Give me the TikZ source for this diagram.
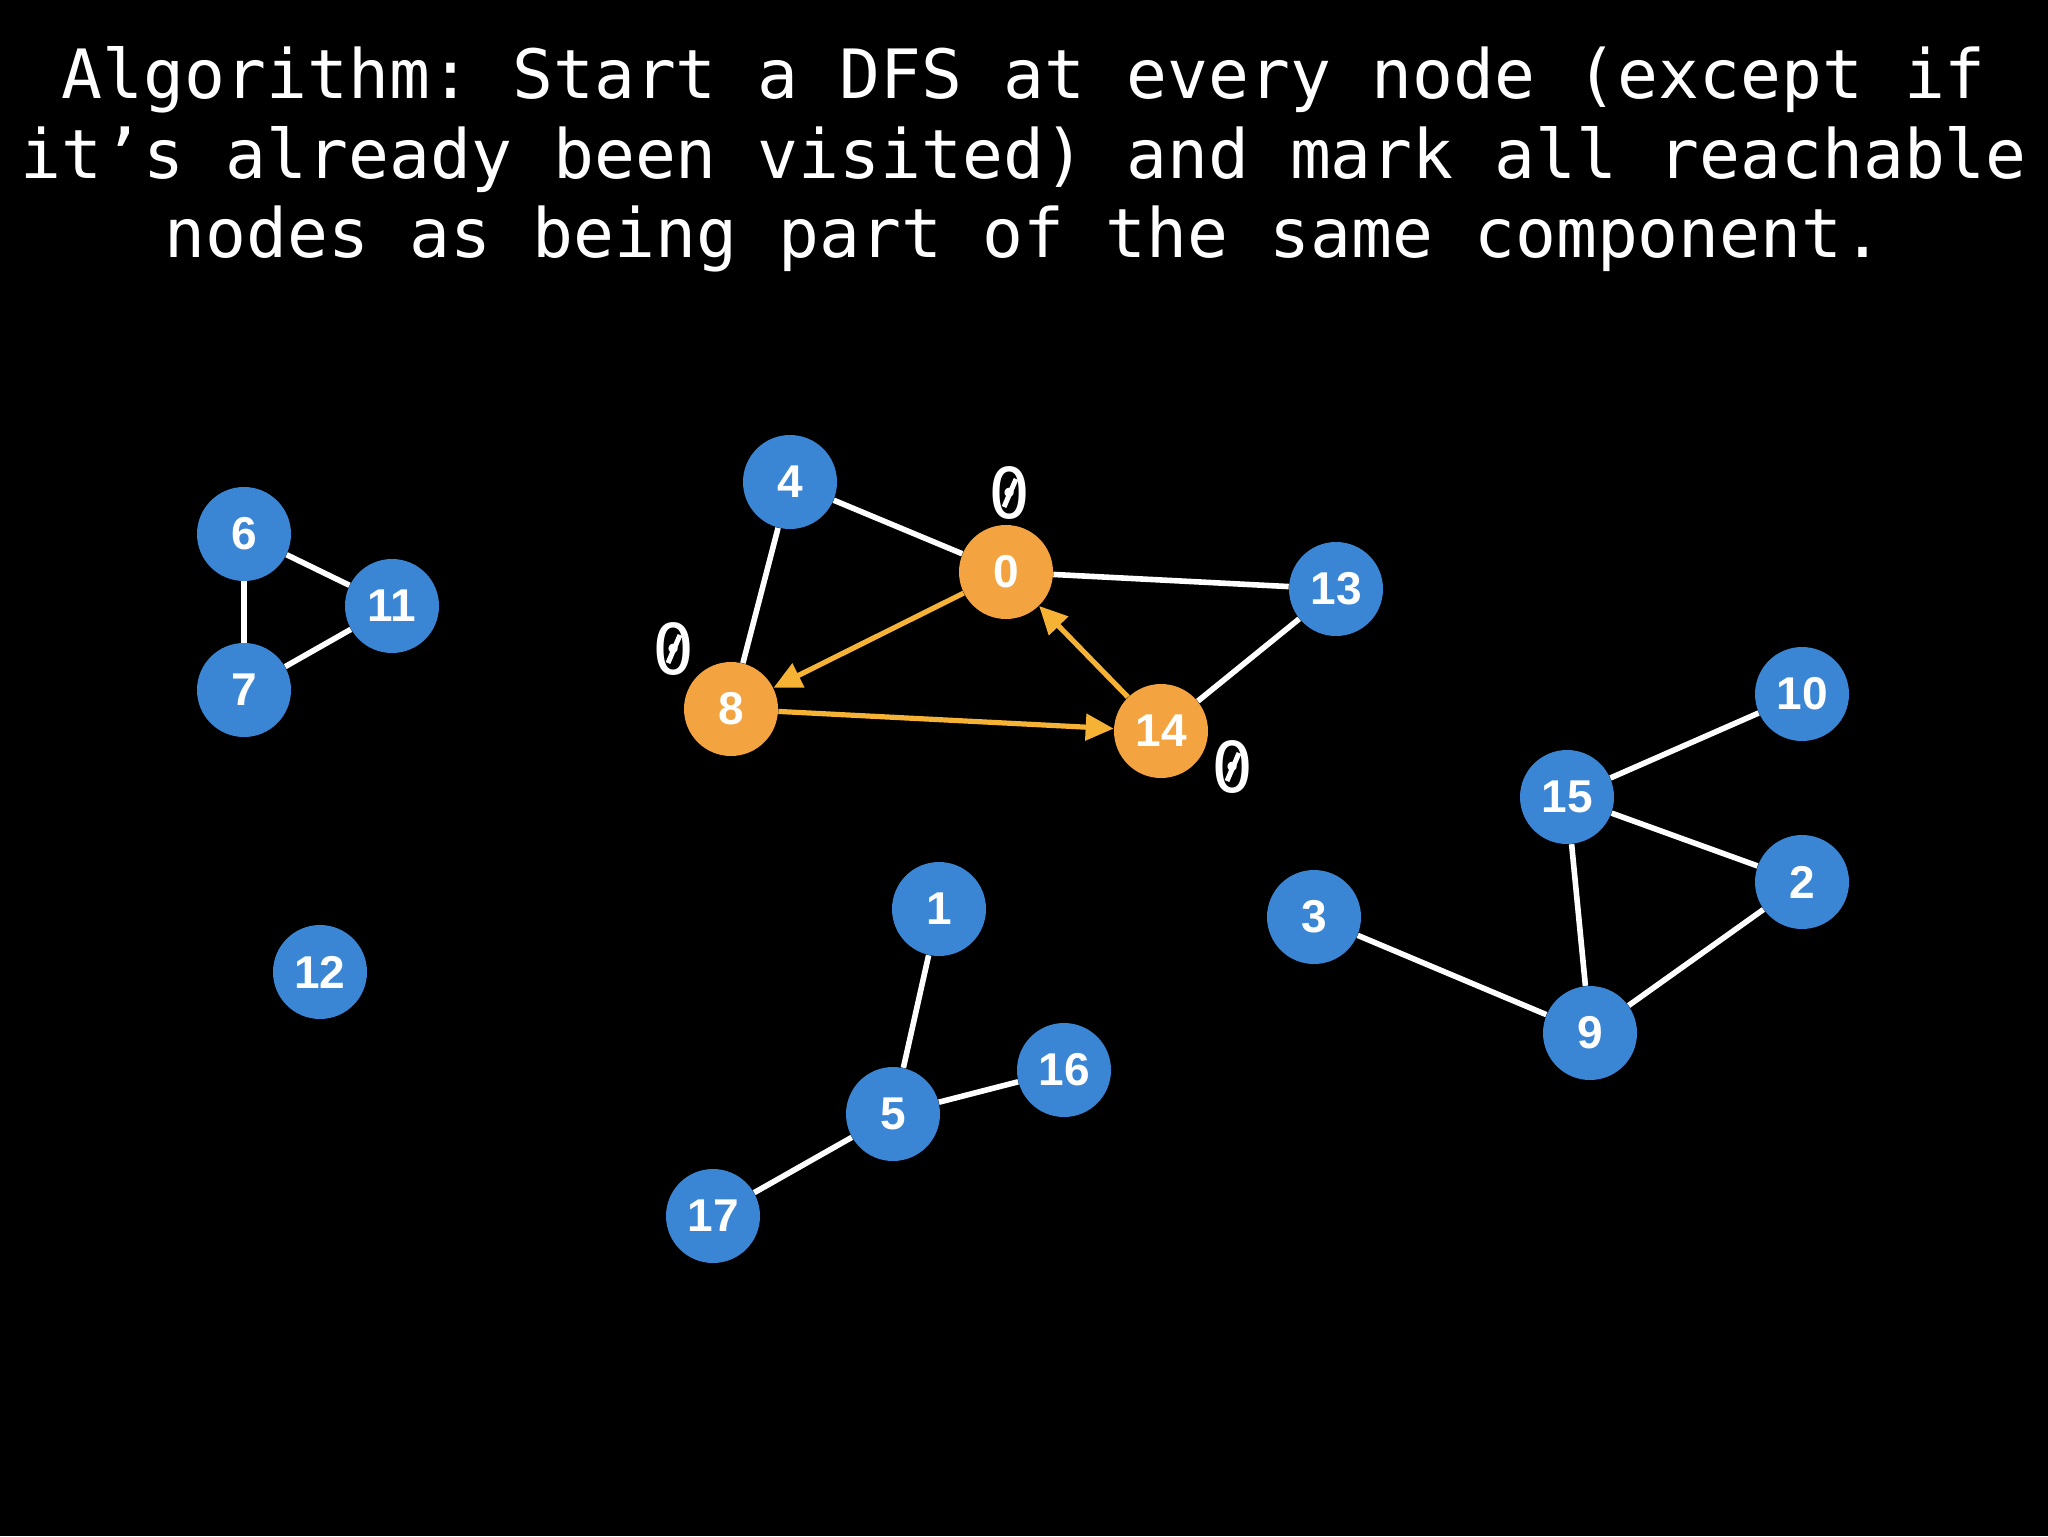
\documentclass[tikz,border=0pt]{standalone}
\usepackage{fontspec}
\setmainfont{Liberation Sans}
\newfontfamily\titlefont{DejaVu Sans Mono}
\newfontfamily\labelfont{Liberation Sans}
\usetikzlibrary{arrows.meta}
\frenchspacing
\definecolor{nodeblue}{RGB}{58,134,213}
\definecolor{nodeorange}{RGB}{243,163,64}
\definecolor{arroworange}{RGB}{246,178,52}
\tikzset{
  vtx/.style={circle, fill=nodeblue, minimum size=47pt, inner sep=0pt,
    text=white, font=\labelfont\bfseries\fontsize{23}{23}\selectfont},
  vtxon/.style={vtx, fill=nodeorange},
  edge/.style={draw=white, line width=2.8pt},
  dfsarrow/.style={draw=arroworange, line width=2.6pt, -{Triangle[length=14pt,width=13pt]}},
  titleline/.style={text=white, anchor=base, inner sep=0pt,
    font=\titlefont\fontsize{34}{40}\selectfont},
  zerolbl/.style={text=white, inner sep=0pt, font=\titlefont\fontsize{35}{35}\selectfont},
  zeroslash/.style={draw=white, line width=2.5pt}
}
\begin{document}
\begin{tikzpicture}[x=0.5pt,y=-0.5pt]
\useasboundingbox (0,0) rectangle (2048,1536);
\fill[black] (0,0) rectangle (2048,1536);

\node[titleline] (title1) at (1024,98) {Algorithm: Start a DFS at every node (except if};
\node[titleline] (title2) at (1024,178) {it’s already been visited) and mark all reachable};
\node[titleline] (title3) at (1024,257) {nodes as being part of the same component.};

\coordinate (p4) at (790,482);
\coordinate (p0) at (1006,572);
\coordinate (p13) at (1336,589);
\coordinate (p6) at (244,534);
\coordinate (p11) at (392,606);
\coordinate (p7) at (244,690);
\coordinate (p8) at (731,709);
\coordinate (p14) at (1161,731);
\coordinate (p10) at (1802,694);
\coordinate (p15) at (1567,797);
\coordinate (p2) at (1802,882);
\coordinate (p3) at (1314,917);
\coordinate (p9) at (1590,1033);
\coordinate (p1) at (939,909);
\coordinate (p12) at (320,972);
\coordinate (p16) at (1064,1070);
\coordinate (p5) at (893,1114);
\coordinate (p17) at (713,1216);

\node[vtx] (n4) at (p4) {4};
\node[vtxon] (n0) at (p0) {0};
\node[vtx] (n13) at (p13) {13};
\node[vtx] (n6) at (p6) {6};
\node[vtx] (n11) at (p11) {11};
\node[vtx] (n7) at (p7) {7};
\node[vtxon] (n8) at (p8) {8};
\node[vtxon] (n14) at (p14) {14};
\node[vtx] (n10) at (p10) {10};
\node[vtx] (n15) at (p15) {15};
\node[vtx] (n2) at (p2) {2};
\node[vtx] (n3) at (p3) {3};
\node[vtx] (n9) at (p9) {9};
\node[vtx] (n1) at (p1) {1};
\node[vtx] (n12) at (p12) {12};
\node[vtx] (n16) at (p16) {16};
\node[vtx] (n5) at (p5) {5};
\node[vtx] (n17) at (p17) {17};

\draw[edge] (n4) -- (n0);
\draw[edge] (n4) -- (n8);
\draw[edge] (n0) -- (n13);
\draw[edge] (n13) -- (n14);
\draw[edge] (n6) -- (n11);
\draw[edge] (n6) -- (n7);
\draw[edge] (n7) -- (n11);
\draw[edge] (n10) -- (n15);
\draw[edge] (n15) -- (n2);
\draw[edge] (n15) -- (n9);
\draw[edge] (n2) -- (n9);
\draw[edge] (n3) -- (n9);
\draw[edge] (n1) -- (n5);
\draw[edge] (n5) -- (n16);
\draw[edge] (n5) -- (n17);

\draw[dfsarrow] (n0) -- (n8);
\draw[dfsarrow] (n8) -- (n14);
\draw[dfsarrow] (n14) -- (n0);

\node[zerolbl] (z0) at (1010,493) {0};
\node[zerolbl] (z8) at (674,649) {0};
\node[zerolbl] (z14) at (1233,767) {0};
\foreach \z in {z0,z8,z14}{
  \draw[zeroslash] ([shift={(3pt,7pt)}]\z.center) -- ([shift={(-3pt,-7pt)}]\z.center);
}
\end{tikzpicture}
\end{document}
